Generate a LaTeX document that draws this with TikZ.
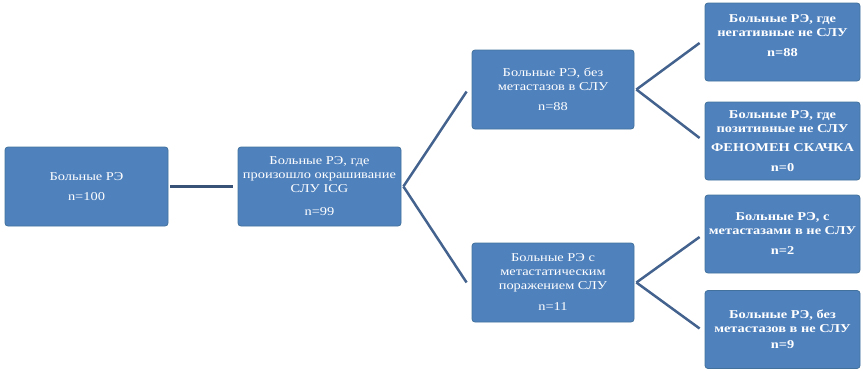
\documentclass[tikz,border=0pt]{standalone}
\usepackage{fontspec}
\setmainfont[FakeStretch=1.2]{Liberation Serif}
\definecolor{boxfill}{RGB}{79,129,189}
\definecolor{boxline}{RGB}{65,113,156}
\definecolor{connline}{RGB}{68,98,142}
\definecolor{conndark}{RGB}{55,82,118}
\begin{document}
\begin{tikzpicture}[x=1pt,y=-1pt,
  box/.style={draw=boxline, line width=0.8pt, fill=boxfill, rounded corners=3pt,
    text=white, align=center, inner sep=0pt, minimum width=163pt, minimum height=79pt,
    font=\fontsize{12}{14}\selectfont},
  bbox/.style={box, minimum width=155pt, minimum height=78pt,
    font=\fontsize{12}{14}\selectfont\bfseries},
  conn/.style={draw=connline, line width=2.5pt}]
\useasboundingbox (0,0) rectangle (863,370);
\node[box] (b1) at (86.5,186.5) {Больные РЭ\\[6pt]n=100};
\node[box] (b2) at (319.5,186.5) {Больные РЭ, где\\произошло окрашивание\\СЛУ ICG\\[9pt]n=99};
\node[box, minimum width=162pt] (b3) at (553,89.5) {Больные РЭ, без\\метастазов в СЛУ\\[6pt]n=88};
\node[box, minimum width=162pt] (b4) at (553,282.5) {Больные РЭ с\\метастатическим\\поражением СЛУ\\[7pt]n=11};
\node[bbox] (b5) at (782.5,42) {Больные РЭ, где\\негативные не СЛУ\\[6pt]n=88\\[-2pt]\mbox{}};
\node[bbox] (b6) at (782.5,141) {Больные РЭ, где\\позитивные не СЛУ\\[5pt]ФЕНОМЕН СКАЧКА\\[6pt]n=0};
\node[bbox] (b7) at (782.5,234) {Больные РЭ, с\\метастазами в не СЛУ\\[6pt]n=2};
\node[bbox] (b8) at (782.5,329.5) {Больные РЭ, без\\метастазов в не СЛУ\\[2pt]n=9};
\draw[conn, draw=conndark] ([xshift=2pt]b1.east) -- ([xshift=-5pt]b2.west);
\draw[conn] ([xshift=2pt]b2.east) -- ([xshift=-5pt,yshift=-2pt]b3.west);
\draw[conn] ([xshift=2pt]b2.east) -- ([xshift=-5pt]b4.west);
\draw[conn] ([xshift=2pt]b3.east) -- ([xshift=-5pt,yshift=-1pt]b5.west);
\draw[conn] ([xshift=2pt]b3.east) -- ([xshift=-5pt,yshift=3pt]b6.west);
\draw[conn] ([xshift=2pt]b4.east) -- ([xshift=-5pt,yshift=-3pt]b7.west);
\draw[conn] ([xshift=2pt]b4.east) -- ([xshift=-5pt,yshift=1pt]b8.west);
\end{tikzpicture}
\end{document}
